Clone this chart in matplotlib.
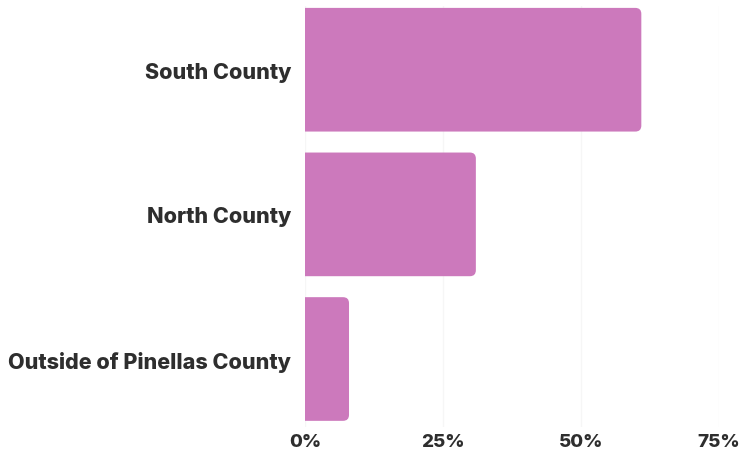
import matplotlib
matplotlib.use("Agg")
import matplotlib.pyplot as plt
from matplotlib.patches import FancyBboxPatch
from matplotlib.ticker import FuncFormatter

regions = ["South County", "North County", "Outside of Pinellas County"]
shares = [61, 31, 8]
xticks = [0, 25, 50, 75]

bar_color = "#cc79bc"
text_color = "#2e2e2e"

plt.rcParams["font.family"] = ["Inter", "DejaVu Sans"]

fig = plt.figure(figsize=(7.4, 4.6), dpi=100)
ax = fig.add_axes([0.412, 0.0696, 0.559, 0.915])

bars = ax.barh(range(len(regions)), shares, height=0.855, color=bar_color)
ax.set_xlim(0, 75)
ax.set_ylim(2.47, -0.44)

# round only the right-hand corners: start the rounded box left of the axes
# so the clip at x=0 cuts the left corners off square
px_x = 0.559 * 740 / 75
px_y = 0.915 * 460 / 2.91
r = 6 / px_x
for b in bars:
    x, y, w, h = b.get_x(), b.get_y(), b.get_width(), b.get_height()
    b.set_visible(False)
    ax.add_patch(FancyBboxPatch((x - 3 * r, y), w + 3 * r, h,
                                boxstyle=f"round,pad=0,rounding_size={r}",
                                mutation_aspect=px_x / px_y,
                                fc=bar_color, ec="none", zorder=2))

ax.set_yticks(range(len(regions)))
ax.set_yticklabels(regions, fontsize=15.5, fontweight="heavy", color=text_color)
ax.set_xticks(xticks)
ax.xaxis.set_major_formatter(FuncFormatter(lambda v, p: f"{v:.0f}%"))
for lab in ax.get_xticklabels():
    lab.set_fontsize(13.5)
    lab.set_fontweight("heavy")
    lab.set_color(text_color)
ax.tick_params(length=0)
ax.tick_params(axis="x", pad=4)
ax.tick_params(axis="y", pad=10)
ax.grid(axis="x", color="#f6f6f6", linewidth=1)
ax.set_axisbelow(True)
for s in ax.spines.values():
    s.set_visible(False)

fig.savefig("out.png", dpi=100)
